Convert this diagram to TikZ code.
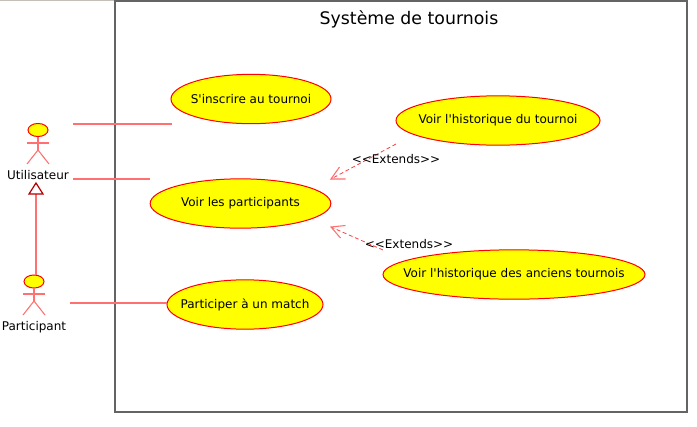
\documentclass[tikz,border=0pt]{standalone}
\usepackage{fontspec}
\newfontfamily\dv{DejaVu Sans}
\definecolor{umlred}{RGB}{255,0,0}
\definecolor{umlyellow}{RGB}{255,255,0}
\definecolor{linkred}{RGB}{255,112,112}
\definecolor{framegrey}{RGB}{100,100,100}
\definecolor{topbar}{RGB}{196,192,184}
\usetikzlibrary{shapes.geometric}
\tikzset{
  usecase/.style={ellipse,draw=umlred,fill=umlyellow,line width=0.75pt,inner sep=0pt,outer sep=0pt,
     minimum width=#1,minimum height=37pt,font=\dv\fontsize{9}{11}\selectfont,text=black},
  txt/.style={font=\dv\fontsize{9}{11}\selectfont,text=black,inner sep=0pt},
  titletxt/.style={font=\dv\fontsize{13}{16}\selectfont,text=black,inner sep=0pt},
  assoc/.style={draw=linkred,line width=1pt},
  limb/.style={draw=linkred,line width=0.8pt},
  head/.style={ellipse,draw=umlred,fill=umlyellow,line width=0.75pt,inner sep=0pt,outer sep=0pt,minimum width=15pt,minimum height=9.8pt},
  frame/.style={draw=framegrey,line width=1pt},
  dep/.style={draw=umlred!75,line width=0.6pt,dash pattern=on 3pt off 2pt},
  barb/.style={draw=linkred,line width=0.8pt},
  gen/.style={draw=linkred,line width=1.1pt},
  gentip/.style={draw=red!70!black,fill=white,line width=0.9pt,line join=miter},
}
\newcommand{\uclabel}[1]{\makebox[0pt]{#1}}
\begin{document}
\begin{tikzpicture}[x=0.75pt,y=-0.75pt]
\useasboundingbox (0,0) rectangle (697,426);
\fill[white] (0,0) rectangle (697,426);
\draw[draw=topbar,line width=1pt] (0,0.3) -- (115,0.3);
\draw[frame] (115,1) rectangle (687,412);
\node[titletxt] (title) at (409,19.7) {Système de tournois};

\node[usecase=120pt] (inscrire) at (251,99) {\uclabel{S'inscrire au tournoi}};
\node[usecase=135.5pt] (voir) at (240.5,203.5) {\uclabel{Voir les participants}};
\node[usecase=117pt] (match) at (245,304.5) {\uclabel{Participer à un match}};
\node[usecase=153pt] (hist) at (498,120.5) {\uclabel{Voir l'historique du tournoi}};
\node[usecase=196.5pt] (anc) at (514,274.5) {\uclabel{Voir l'historique des anciens tournois}};

% Utilisateur
\node[head] (uh) at (38,130) {};
\coordinate (ub) at (38,150);
\draw[limb] (uh.south) -- (ub);
\coordinate (ual) at (27,143); \coordinate (uar) at (49,143);
\draw[limb] (ual) -- (uar);
\coordinate (ull) at (27,164); \coordinate (ulr) at (49,164);
\draw[limb] (ull) -- (ub) -- (ulr);
\node[txt] (ulabel) at (38,175.5) {Utilisateur};

% Participant
\node[head] (ph) at (34,281.5) {};
\coordinate (pb) at (34,301);
\draw[limb] (ph.south) -- (pb);
\coordinate (pal) at (23,294); \coordinate (par) at (45,294);
\draw[limb] (pal) -- (par);
\coordinate (pll) at (23,315); \coordinate (plr) at (45,315);
\draw[limb] (pll) -- (pb) -- (plr);
\node[txt] (plabel) at (34,326.7) {Participant};

% associations
\coordinate (a1s) at (73,124); \coordinate (a1e) at (172,124);
\coordinate (a2s) at (73,179); \coordinate (a2e) at (150,179);
\coordinate (a3s) at (70,303);
\draw[assoc] (a1s) -- (a1e);
\draw[assoc] (a2s) -- (a2e);
\draw[assoc] (a3s) -- (a3s -| match.west);

% generalisation
\coordinate (gs) at (36,275); \coordinate (ge) at (36,194);
\coordinate (gl) at (29,194); \coordinate (gr) at (43,194); \coordinate (ga) at (36,183);
\draw[gen] (gs) -- (ge);
\draw[gentip] (gl) -- (ga) -- (gr) -- cycle;

% extends
\coordinate (e1s) at (396,144); \coordinate (e1t) at (331,179);
\coordinate (e1a) at (345.5,179); \coordinate (e1b) at (339.5,167);
\draw[dep] (e1s) -- (e1t);
\draw[barb] (e1a) -- (e1t) -- (e1b);
\node[txt] (e1l) at (396,159) {{<}{<}Extends{>}{>}};

\coordinate (e2s) at (383,250); \coordinate (e2t) at (331,227);
\coordinate (e2a) at (345.5,225.5); \coordinate (e2b) at (340.5,238);
\draw[dep] (e2s) -- (e2t);
\draw[barb] (e2a) -- (e2t) -- (e2b);
\node[txt] (e2l) at (409,244) {{<}{<}Extends{>}{>}};
\end{tikzpicture}
\end{document}
